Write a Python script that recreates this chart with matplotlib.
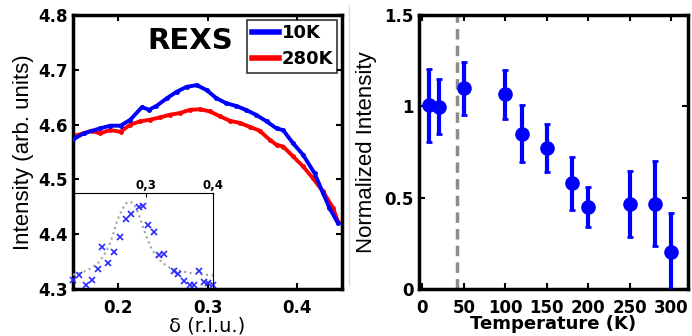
import matplotlib
matplotlib.use("Agg")
import matplotlib.pyplot as plt
from matplotlib.lines import Line2D

plt.rcParams['font.family'] = ['DejaVu Sans']

# ---- left panel data ----
delta_10K = [0.150, 0.162, 0.180, 0.1915, 0.203, 0.214, 0.227, 0.2346, 0.243, 0.2546,
             0.2657, 0.2768, 0.2879, 0.299, 0.310, 0.321, 0.332, 0.3427, 0.354, 0.3658,
             0.377, 0.3843, 0.3954, 0.4065, 0.4195, 0.4288, 0.436, 0.4455]
int_10K = [4.573, 4.584, 4.593, 4.598, 4.598, 4.609, 4.632, 4.627, 4.634, 4.648,
           4.660, 4.669, 4.672, 4.663, 4.648, 4.639, 4.634, 4.627, 4.618, 4.606,
           4.593, 4.590, 4.566, 4.545, 4.511, 4.475, 4.448, 4.420]
delta_280K = [0.150, 0.162, 0.171, 0.180, 0.1915, 0.203, 0.214, 0.225, 0.236, 0.247,
              0.258, 0.269, 0.2805, 0.2916, 0.3028, 0.314, 0.325, 0.336, 0.347, 0.358,
              0.3695, 0.377, 0.3843, 0.3954, 0.4065, 0.4176, 0.4288, 0.440, 0.4455]
int_280K = [4.579, 4.584, 4.589, 4.584, 4.590, 4.587, 4.600, 4.606, 4.609, 4.613,
            4.618, 4.621, 4.627, 4.628, 4.624, 4.615, 4.607, 4.603, 4.596, 4.589,
            4.572, 4.563, 4.560, 4.542, 4.524, 4.502, 4.478, 4.448, 4.423]

# inset data (difference signal, arbitrary units)
inset_x = [0.190, 0.199, 0.209, 0.218, 0.227, 0.234, 0.243, 0.252, 0.260, 0.269,
           0.277, 0.289, 0.295, 0.302, 0.311, 0.319, 0.326, 0.342, 0.348, 0.357,
           0.365, 0.371, 0.379, 0.386, 0.392, 0.400]
inset_y = [0.14, 0.185, 0.094, 0.14, 0.25, 0.47, 0.307, 0.418, 0.564, 0.742,
           0.794, 0.861, 0.871, 0.679, 0.617, 0.383, 0.394, 0.233, 0.199, 0.129,
           0.094, 0.087, 0.226, 0.115, 0.105, 0.094]
fit_x = [0.190, 0.202, 0.213, 0.220, 0.228, 0.235, 0.242, 0.246, 0.250, 0.254,
         0.259, 0.265, 0.270, 0.275, 0.280, 0.285, 0.290, 0.295, 0.300, 0.307,
         0.315, 0.324, 0.335, 0.350, 0.365, 0.380, 0.400]
fit_y = [0.19, 0.21, 0.24, 0.27, 0.31, 0.37, 0.45, 0.51, 0.59, 0.68,
         0.77, 0.85, 0.90, 0.915, 0.90, 0.85, 0.76, 0.66, 0.57, 0.46,
         0.37, 0.31, 0.26, 0.23, 0.21, 0.195, 0.185]

# ---- right panel data ----
temperature = [8, 20, 50, 100, 120, 150, 180, 200, 250, 280, 300]
norm_int = [1.005, 0.998, 1.10, 1.066, 0.85, 0.773, 0.58, 0.449, 0.464, 0.468, 0.203]
norm_err = [0.20, 0.15, 0.145, 0.135, 0.155, 0.13, 0.145, 0.11, 0.18, 0.23, 0.215]
T_transition = 42

TICK_FS = 12
fig = plt.figure(figsize=(6.92, 3.36), dpi=100)

# ---- left panel ----
ax1 = fig.add_axes([73/692, 47/336, 269/692, 274/336])
ax1.plot(delta_10K, int_10K, '-o', color='#0000ff', lw=2.8, ms=2.5, label='10K', zorder=3)
ax1.plot(delta_280K, int_280K, '-o', color='#ff0000', lw=2.8, ms=2.5, label='280K', zorder=2)
ax1.set_xlim(0.15, 0.45)
ax1.set_ylim(4.3, 4.8)
ax1.set_xticks([0.2, 0.3, 0.4])
ax1.set_xticklabels(['0.2', '0.3', '0.4'])
ax1.set_yticks([4.3, 4.4, 4.5, 4.6, 4.7, 4.8])
ax1.set_yticklabels(['4.3', '4.4', '4.5', '4.6', '4.7', '4.8'])
ax1.set_ylabel('Intensity (arb. units)', fontsize=16, family='Liberation Sans', labelpad=3)
ax1.set_xlabel('δ (r.l.u.)', fontsize=14, labelpad=0)
ax1.text(0.435, 0.905, 'REXS', transform=ax1.transAxes, fontsize=21,
         fontweight='bold', ha='center', va='center')
leg = ax1.legend(loc='upper right', prop={'weight': 'bold', 'size': 13},
                 frameon=True, fancybox=False, edgecolor='black', handlelength=1.5,
                 handletextpad=0.15, borderpad=0.25, labelspacing=0.45,
                 borderaxespad=0.25)
leg.get_frame().set_linewidth(1.2)
for l in leg.get_lines():
    l.set_linewidth(4)
    l.set_marker('')

# ---- inset ----
axin = fig.add_axes([73/692, 47/336, 140/692, 96/336])
axin.patch.set_alpha(0)
axin.plot(fit_x, fit_y, ':', color='#a0a0a0', lw=1.5)
axin.plot(inset_x, inset_y, 'x', color='#2a2aff', ms=5, mew=1.2, clip_on=False)
axin.set_xlim(0.19, 0.40)
axin.set_ylim(0.05, 1.0)
axin.xaxis.tick_top()
axin.set_xticks([0.3, 0.4])
axin.set_xticklabels(['0,3', '0,4'])
axin.set_yticks([])
axin.tick_params(axis='x', labelsize=8.5, pad=1, length=3, direction='in')
for lab in axin.get_xticklabels():
    lab.set_fontweight('bold')
for s in ['top', 'right']:
    axin.spines[s].set_linewidth(0.8)
for s in ['left', 'bottom']:
    axin.spines[s].set_visible(False)

# ---- right panel ----
ax2 = fig.add_axes([419/692, 47/336, 269/692, 274/336])
ax2.axvline(T_transition, color='#8c8c8c', lw=2.5, ls=(0, (3, 1.8)), zorder=1)
ax2.errorbar(temperature, norm_int, yerr=norm_err, fmt='o', color='#0000ff',
             ms=9.5, elinewidth=3, capsize=2.5, capthick=2, zorder=3)
ax2.set_xlim(-4, 320)
ax2.set_ylim(0, 1.5)
ax2.set_xticks([0, 50, 100, 150, 200, 250, 300])
ax2.set_yticks([0, 0.5, 1, 1.5])
ax2.set_yticklabels(['0', '0.5', '1', '1.5'])
ax2.set_ylabel('Normalized Intensity', fontsize=16, family='Liberation Sans', labelpad=5)
ax2.set_xlabel('Temperature (K)', fontsize=13, fontweight='bold', labelpad=-1)

for ax in (ax1, ax2):
    for s in ax.spines.values():
        s.set_linewidth(2.5)
    ax.tick_params(direction='in', top=True, right=True, length=4, width=1.5,
                   labelsize=TICK_FS, pad=4)
    ax.tick_params(axis='x', pad=7)
    for lab in ax.get_xticklabels() + ax.get_yticklabels():
        lab.set_fontweight('bold')

fig.add_artist(Line2D([349/692, 349/692], [(336-285)/336, (336-5)/336],
                      color='#dddddd', lw=1))

fig.savefig('out.png', dpi=100)
